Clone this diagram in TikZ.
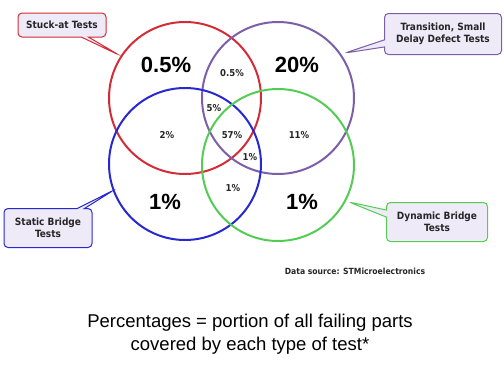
\documentclass[tikz,border=0pt]{standalone}
\usepackage{fontspec}
\setmainfont{Liberation Sans}
\newfontfamily\tagfont{DejaVuSansCondensed-Bold}[Extension=.ttf]
\usetikzlibrary{shapes.callouts}

\definecolor{stuckred}{RGB}{210,44,56}
\definecolor{transpurple}{RGB}{124,94,170}
\definecolor{staticblue}{RGB}{40,40,208}
\definecolor{dynamicgreen}{RGB}{84,204,84}
\definecolor{tagfill}{RGB}{238,234,248}

\begin{document}
\begin{tikzpicture}[x=1pt,y=-1pt,
  venn/.style={circle,draw=#1,line width=2pt,minimum size=152pt,inner sep=0pt},
  tag/.style={rectangle callout,rounded corners=4pt,draw=#1,line width=1pt,
    fill=tagfill,text=black!85,align=center,inner sep=2pt,
    font=\tagfont\fontsize{10}{12.5}\selectfont},
  big/.style={font=\bfseries\fontsize{22}{24}\selectfont},
  small/.style={font=\tagfont\fontsize{9.5}{10}\selectfont,text=black!85}]
\useasboundingbox (0,0) rectangle (504,367);

% the four sets
\node[venn=stuckred] (stuck) at (185,98) {};
\node[venn=transpurple] (trans) at (278,98) {};
\node[venn=staticblue] (static) at (185,164) {};
\node[venn=dynamicgreen] (dynamic) at (278,165) {};

% where the labels point
\coordinate (stucktip) at (119,55);
\coordinate (transtip) at (345,53);
\coordinate (statictip) at (114,190);
\coordinate (dynamictip) at (349,202);

\node[tag=stuckred,callout absolute pointer={(stucktip)},minimum width=88pt,minimum height=24pt] (stucklabel) at (62,25) {Stuck-at Tests};
\node[tag=transpurple,callout absolute pointer={(transtip)},minimum width=117pt,minimum height=41pt] (translabel) at (443,34) {Transition, Small\\Delay Defect Tests};
\node[tag=staticblue,callout absolute pointer={(statictip)},minimum width=88pt,minimum height=39pt] (staticlabel) at (48,228) {Static Bridge\\Tests};
\node[tag=dynamicgreen,callout absolute pointer={(dynamictip)},minimum width=101pt,minimum height=39pt] (dynamiclabel) at (437,222) {Dynamic Bridge\\Tests};

% percentages
\node[big] (onlystuck) at (166,65) {0.5\%};
\node[big] (onlytrans) at (297,65) {20\%};
\node[big] (onlystatic) at (165,202) {1\%};
\node[big] (onlydynamic) at (302,202) {1\%};
\node[small] (stucktrans) at (232,73) {0.5\%};
\node[small] (threeway) at (214,108) {5\%};
\node[small] (stuckstatic) at (167,135) {2\%};
\node[small] (allfour) at (232,135) {57\%};
\node[small] (transdynamic) at (299,135) {11\%};
\node[small] (lowerthree) at (250,157) {1\%};
\node[small] (staticdynamic) at (233,188) {1\%};

\node[font=\tagfont\fontsize{8.5}{10}\selectfont,text=black!85] (source) at (355,271) {Data source: STMicroelectronics};
\node[align=center,font=\fontsize{18.5}{23}\selectfont] (caption) at (250,334) {Percentages = portion of all failing parts\\covered by each type of test*};
\end{tikzpicture}
\end{document}
